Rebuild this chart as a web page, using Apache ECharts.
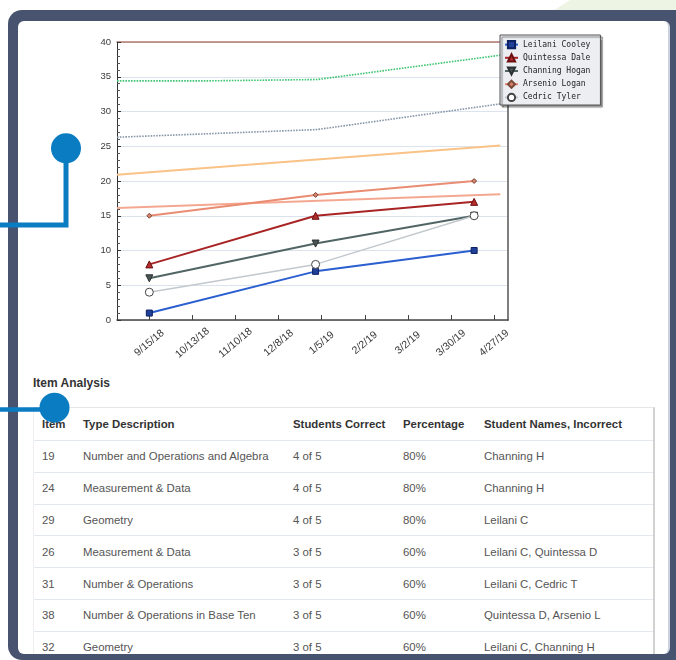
<!DOCTYPE html>
<html>
<head>
<meta charset="utf-8">
<script src="https://cdn.jsdelivr.net/npm/echarts@6.0.0/dist/echarts.min.js"></script>
<style>
  html, body { margin: 0; padding: 0; width: 676px; height: 660px; overflow: hidden; background: #ffffff; font-family: "Liberation Sans", Arial, sans-serif; }
  #green { position: absolute; left: 0; top: 0; width: 676px; height: 14px; background: #eef4e3;
           clip-path: polygon(548px 14px, 570px 0, 676px 0, 676px 14px); }
  #frame { position: absolute; left: 8px; top: 9.5px; width: 720px; height: 650px; background: #48536f; border-radius: 14px; }
  #panel { position: absolute; left: 18px; top: 21px; width: 650px; height: 633px; background: #ffffff;
           border-radius: 6px; overflow: hidden; border-right: 2px solid #c9d2de; }
  #chart { position: absolute; left: 0; top: 0; width: 676px; height: 372px; z-index: 2; }
  #title { position: absolute; left: 15px; top: 355px; font-size: 12px; font-weight: bold; color: #333; }
  #tbl { position: absolute; left: 15px; top: 386px; width: 619px; border-top: 1px solid #e6e6e6; border-left: 1px solid #efefef; border-right: 2px solid #d2d2d2; }
  table { border-collapse: collapse; width: 619px; table-layout: fixed; font-size: 11.4px; }
  td, th { padding: 0 0 0 8px; text-align: left; white-space: nowrap; overflow: hidden; }
  th { height: 32px; color: #333; font-weight: bold; border-bottom: 1px solid #e3e8ef; }
  td { height: 30.8px; color: #555; border-bottom: 1px solid #e3e8ef; }
  #anno { position: absolute; left: 0; top: 0; z-index: 10; }
</style>
</head>
<body>
<div id="green"></div>
<div id="frame"></div>
<div id="panel">
  <div id="title">Item Analysis</div>
  <div id="tbl"><table id="t"><colgroup><col style="width:41px"><col style="width:210px"><col style="width:110px"><col style="width:81px"><col style="width:177px"></colgroup><thead><tr id="hdr"></tr></thead><tbody id="tb"></tbody></table></div>
</div>
<div id="chart"></div>
<svg id="anno" width="676" height="660">
  <polyline points="66,148 66,225 0,225" fill="none" stroke="#0a7dc2" stroke-width="5"/>
  <circle cx="66" cy="148.3" r="15" fill="#0a7dc2"/>
  <line x1="0" y1="409.5" x2="54" y2="409.5" stroke="#0a7dc2" stroke-width="4.5"/>
  <circle cx="54.5" cy="407.7" r="15" fill="#0a7dc2"/>
</svg>
<script>
// ---------- chart data ----------
const testDates = ['2018-09-15', '2019-01-01', '2019-04-14'];
const studentNames = ['Leilani Cooley', 'Quintessa Dale', 'Channing Hogan', 'Arsenio Logan', 'Cedric Tyler'];
const leilani   = [1, 7, 10];
const quintessa = [8, 15, 17];
const channing  = [6, 11, 15];
const arsenio   = [15, 18, 20];
const cedric    = [4, 8, 15];

const greenDates  = ['2018-08-25', '2018-10-19', '2018-10-20', '2019-01-02', '2019-05-01'];
const greenVals   = [34.4, 34.4, 34.6, 34.6, 38.1];
const grayDates   = ['2018-08-25', '2019-01-02', '2019-05-01'];
const grayVals    = [26.3, 27.4, 31.1];
const orangeDates = ['2018-08-25', '2019-05-01'];
const orangeVals  = [20.9, 25.1];
const salmonDates = ['2018-08-25', '2019-05-01'];
const salmonVals  = [16.1, 18.1];

const tickDates = ['2018-09-15', '2018-10-13', '2018-11-10', '2018-12-08', '2019-01-05', '2019-02-02', '2019-03-02', '2019-03-30', '2019-04-27'];
const xMinDate = '2018-08-25';
const xMaxDate = '2019-05-06';
const yTicks = [0, 5, 10, 15, 20, 25, 30, 35, 40];

// ---------- table data ----------
const tableHeader = ['Item', 'Type Description', 'Students Correct', 'Percentage', 'Student Names, Incorrect'];
const itemNums    = ['19', '24', '29', '26', '31', '38', '32'];
const itemTypes   = ['Number and Operations and Algebra', 'Measurement & Data', 'Geometry', 'Measurement & Data', 'Number & Operations', 'Number & Operations in Base Ten', 'Geometry'];
const itemCorrect = ['4 of 5', '4 of 5', '4 of 5', '3 of 5', '3 of 5', '3 of 5', '3 of 5'];
const itemPct     = ['80%', '80%', '80%', '60%', '60%', '60%', '60%'];
const itemMissed  = ['Channing H', 'Channing H', 'Leilani C', 'Leilani C, Quintessa D', 'Leilani C, Cedric T', 'Quintessa D, Arsenio L', 'Leilani C, Channing H'];

// build table
const hdr = document.getElementById('hdr');
tableHeader.forEach(h => { const th = document.createElement('th'); th.textContent = h; hdr.appendChild(th); });
const tb = document.getElementById('tb');
itemNums.forEach((n, i) => {
  const tr = document.createElement('tr');
  [n, itemTypes[i], itemCorrect[i], itemPct[i], itemMissed[i]].forEach(v => {
    const td = document.createElement('td'); td.textContent = v; tr.appendChild(td);
  });
  tb.appendChild(tr);
});

// ---------- chart ----------
// x positions are day counts from the first tick date (parsed from the date strings above)
const DAY = 86400000;
const utc = s => { const p = s.split('-').map(Number); return Date.UTC(p[0], p[1] - 1, p[2]); };
const origin = utc(tickDates[0]);
const dayNum = s => Math.round((utc(s) - origin) / DAY);
const pairs = (dates, vals) => dates.map((d, i) => [dayNum(d), vals[i]]);
const fmt = v => { const d = new Date(origin + Math.round(v) * DAY); return (d.getUTCMonth() + 1) + '/' + d.getUTCDate() + '/' + String(d.getUTCFullYear()).slice(2); };
const downTri = 'path://M0,0 L10,0 L5,9 Z';
const tickDays = tickDates.map(dayNum);

const chart = echarts.init(document.getElementById('chart'), null, { renderer: 'canvas' });
const refLine = (name, dates, vals, color, width, type) => ({
  name, type: 'line', data: pairs(dates, vals), symbol: 'none', showSymbol: false, z: 1,
  lineStyle: { color, width, type }, silent: true
});
const stuLine = (name, vals, lineColor, lineWidth, symbol, size, fill, border) => ({
  name, type: 'line', data: pairs(testDates, vals), z: 3,
  symbol, symbolSize: size, showSymbol: true,
  lineStyle: { color: lineColor, width: lineWidth },
  itemStyle: { color: fill, borderColor: border, borderWidth: 1 }
});

chart.setOption({
  animation: false,
  backgroundColor: 'transparent',
  grid: { left: 117, top: 42, right: 168, bottom: 52, containLabel: false, outerBoundsMode: 'none', show: false },
  legend: {
    data: studentNames, orient: 'vertical', left: 500, top: 35,
    padding: [5, 10, 3, 4], itemGap: 4, itemWidth: 13, itemHeight: 9,
    backgroundColor: '#eceef2', borderColor: '#555', borderWidth: 1,
    shadowColor: 'rgba(0,0,0,0.45)', shadowOffsetX: 2, shadowOffsetY: 2, shadowBlur: 1,
    textStyle: { fontFamily: 'DejaVu Sans Mono', fontSize: 8, color: '#222' },
    selectedMode: false
  },
  xAxis: [{
    type: 'value', min: dayNum(xMinDate), max: dayNum(xMaxDate),
    axisLine: { show: true, onZero: false, lineStyle: { color: '#444', width: 1.5 } },
    axisTick: { show: true, inside: true, length: 5, lineStyle: { color: '#444' }, customValues: tickDays },
    axisLabel: { customValues: tickDays, formatter: fmt, rotate: 40, align: 'center', verticalAlign: 'middle',
                 margin: 23, fontSize: 10.5, color: '#3a3a3a', fontFamily: 'Liberation Sans', hideOverlap: false },
    splitLine: { show: false }, minorTick: { show: false }
  }, {
    type: 'value', position: 'top', min: 0, max: 1,
    axisLine: { show: true, onZero: false, lineStyle: { color: '#b27a6c', width: 1.5 } },
    axisTick: { show: false }, axisLabel: { show: false }, splitLine: { show: false }
  }],
  yAxis: [{
    type: 'value', min: yTicks[0], max: yTicks[yTicks.length - 1], interval: 5,
    axisLine: { show: true, onZero: false, lineStyle: { color: '#333', width: 1 } },
    axisTick: { show: true, inside: true, length: 4, lineStyle: { color: '#333' } },
    minorTick: { show: true, splitNumber: 5, length: 3, lineStyle: { color: '#555' } },
    axisLabel: { fontSize: 9.5, color: '#3a3a3a', margin: 6, fontFamily: 'Liberation Sans' },
    splitLine: { show: true, lineStyle: { color: '#dbe3ec', width: 1 } }
  }, {
    type: 'value', position: 'right', min: 0, max: 1,
    axisLine: { show: true, onZero: false, lineStyle: { color: '#555', width: 1.5 } },
    axisTick: { show: false }, axisLabel: { show: false }, splitLine: { show: false }
  }],
  series: [
    refLine('Reference A', greenDates, greenVals, '#3fc472', 1.6, [1.6, 1.2]),
    refLine('Reference B', grayDates, grayVals, '#8797a8', 1.6, [1.6, 1.2]),
    refLine('Reference C', orangeDates, orangeVals, '#f9c286', 2, 'solid'),
    refLine('Reference D', salmonDates, salmonVals, '#f5a891', 2, 'solid'),
    stuLine(studentNames[0], leilani, '#2b5fd0', 2, 'rect', 6, '#1f3f98', '#0d2060'),
    stuLine(studentNames[1], quintessa, '#a82424', 2, 'triangle', 7, '#b52c2c', '#6a1010'),
    stuLine(studentNames[2], channing, '#526565', 2, downTri, 7, '#4a5656', '#2a3030'),
    stuLine(studentNames[3], arsenio, '#e98c72', 2, 'diamond', 5, '#d8806a', '#7a4a3a'),
    stuLine(studentNames[4], cedric, '#c2c8cc', 1.5, 'circle', 8, '#ffffff', '#444444')
  ]
});
</script>
</body>
</html>
